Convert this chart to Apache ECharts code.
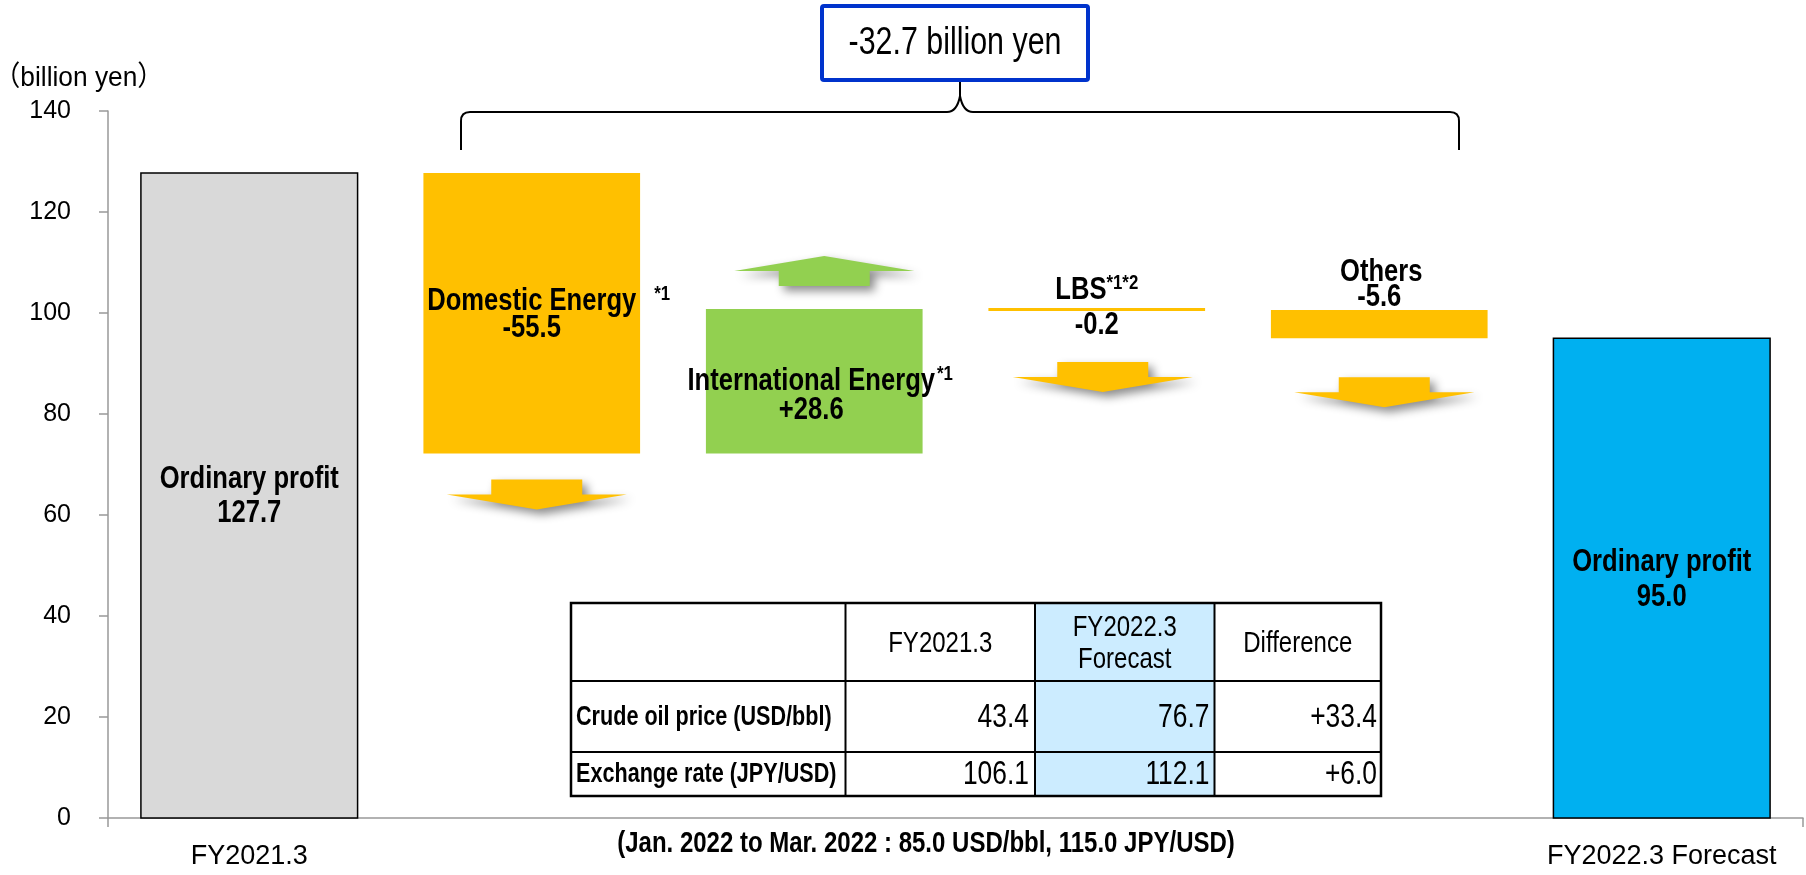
<!DOCTYPE html>
<html><head><meta charset="utf-8">
<script src="https://cdn.jsdelivr.net/npm/echarts@6/dist/echarts.min.js"></script>
<style>html,body{margin:0;padding:0;background:#fff}#c{width:1806px;height:875px}</style>
</head><body><div id="c"></div>
<script>
// ---------- data ----------
const categories = ['FY2021.3', 'Domestic Energy', 'International Energy', 'LBS', 'Others', 'FY2022.3 Forecast'];
const xTickLabels = ['FY2021.3', '', '', '', '', 'FY2022.3 Forecast'];
const barKinds = ['total', 'delta', 'delta', 'delta', 'delta', 'total'];
const barValues = [127.7, -55.5, 28.6, -0.2, -5.6, 95.0];
const barTitles = ['Ordinary profit', 'Domestic Energy', 'International Energy', 'LBS', 'Others', 'Ordinary profit'];
const barNotes = ['', '*1', '*1', '*1*2', '', ''];
const barValueTexts = ['127.7', '-55.5', '+28.6', '-0.2', '-5.6', '95.0'];
const yMin = 0, yMax = 140, yStep = 20;
const unitLabel = '（billion yen）';
const totalChangeText = '-32.7 billion yen';
const tableHeader = ['', 'FY2021.3', 'FY2022.3\nForecast', 'Difference'];
const tableRowNames = ['Crude oil price (USD/bbl)', 'Exchange rate (JPY/USD)'];
const tableFY2021 = ['43.4', '106.1'];
const tableFY2022 = ['76.7', '112.1'];
const tableDiff = ['+33.4', '+6.0'];
const footnote = '(Jan. 2022 to Mar. 2022 : 85.0 USD/bbl, 115.0 JPY/USD)';

// ---------- waterfall ----------
let running = 0;
const wfData = barValues.map((v, i) => {
  let low, high;
  if (barKinds[i] === 'total') { low = 0; high = v; running = v; }
  else { const nx = running + v; low = Math.min(running, nx); high = Math.max(running, nx); running = nx; }
  return [i, low, high, v];
});

// ---------- styles / layout ----------
const FONT = '"Liberation Sans", Arial, "Noto Sans CJK JP", sans-serif';
const NARROW_SCALE = 0.8;   // emulate condensed lettering
const BAR_RATIO = 0.767;
const COLORS = { first: '#D9D9D9', last: '#00B0F0', neg: '#FFC000', pos: '#92D050' };
const ARROW_GAP = [0, 26, 23, 51, 39, 0];
const ARROW_DX = [0, 5, 10, 6, 5, 0];
const LABEL_FS = 32, SUP_FS = 21;
// [title dx, title dy, value dx, value dy, supGap, blockCenter] relative to bar centre
const LABEL_POS = [
  [0, -16, 0, 18, 0, false],
  [0, -12, 0, 15, 18, false],
  [-3, 0, -3, 29, 2, false],
  [0, -19, 0, 16, 0, true],
  [2, -52, 0, -27, 0, false],
  [0, -16, 0, 19, 0, false]
];

const mctx = document.createElement('canvas').getContext('2d');
function textW(s, size, weight) { mctx.font = weight + ' ' + size + 'px ' + FONT; return mctx.measureText(s).width * NARROW_SCALE; }

function txt(x, y, text, size, weight, align, extra) {
  return Object.assign({
    type: 'text', x: x, y: y, z: 10, scaleX: NARROW_SCALE,
    style: { text: text, fill: '#000', fontSize: size, fontWeight: weight, fontFamily: FONT,
      align: align || 'center', verticalAlign: 'middle', lineHeight: Math.round(size * 1.05) }
  }, extra || {});
}
function seg(x1, y1, x2, y2) {
  return { type: 'line', z: 5, shape: { x1: x1, y1: y1, x2: x2, y2: y2 }, style: { stroke: '#000', lineWidth: 2 } };
}
function curve(x1, y1, cx, cy, x2, y2) {
  return { type: 'bezierCurve', z: 5, shape: { x1: x1, y1: y1, x2: x2, y2: y2, cpx1: cx, cpy1: cy }, style: { fill: 'none', stroke: '#000', lineWidth: 2 } };
}

function renderBars(params, api) {
  const i = api.value(0);
  const lowP = api.coord([i, api.value(1)]);
  const highP = api.coord([i, api.value(2)]);
  const band = api.size([1, 0])[0];
  const w = band * BAR_RATIO;
  const cx = lowP[0];
  let top = highP[1], h = lowP[1] - highP[1];
  if (h < 3) { top = (lowP[1] + highP[1]) / 2 - 1.5; h = 3; }
  const mid = top + h / 2;
  const kind = barKinds[i];
  const v = api.value(3);
  const children = [];
  let fill;
  if (kind === 'total') fill = i === 0 ? COLORS.first : COLORS.last;
  else fill = v < 0 ? COLORS.neg : COLORS.pos;
  children.push({
    type: 'rect', shape: { x: cx - w / 2, y: top, width: w, height: h },
    style: kind === 'total' ? { fill: fill, stroke: '#000', lineWidth: 1.5 } : { fill: fill }
  });
  if (kind === 'delta') {
    const ax = cx + ARROW_DX[i], rw = 91, rh = 15, hw = 180, hh = 15;
    let pts;
    if (v < 0) {
      const y0 = top + h + ARROW_GAP[i];
      pts = [[ax - rw / 2, y0], [ax + rw / 2, y0], [ax + rw / 2, y0 + rh], [ax + hw / 2, y0 + rh], [ax, y0 + rh + hh], [ax - hw / 2, y0 + rh], [ax - rw / 2, y0 + rh]];
    } else {
      const y0 = top - ARROW_GAP[i];
      pts = [[ax - rw / 2, y0], [ax + rw / 2, y0], [ax + rw / 2, y0 - rh], [ax + hw / 2, y0 - rh], [ax, y0 - rh - hh], [ax - hw / 2, y0 - rh], [ax - rw / 2, y0 - rh]];
    }
    children.push({
      type: 'polygon', shape: { points: pts },
      style: { fill: fill, shadowBlur: 10, shadowOffsetX: 5, shadowOffsetY: 5, shadowColor: 'rgba(0,0,0,0.45)' }
    });
  }
  const lp = LABEL_POS[i];
  const title = barTitles[i], note = barNotes[i];
  const tw = textW(title, LABEL_FS, 'bold');
  let tx = cx + lp[0], sx;
  if (note) {
    if (lp[5]) {
      const sw = textW(note, SUP_FS, 'bold');
      const left = cx - (tw + sw) / 2;
      tx = left + tw / 2; sx = left + tw;
    } else {
      sx = tx + tw / 2 + lp[4];
    }
  }
  children.push(txt(tx, mid + lp[1], title, LABEL_FS, 'bold'));
  if (note) children.push(txt(sx, mid + lp[1] - 7, note, SUP_FS, 'bold', 'left'));
  children.push(txt(cx + lp[2], mid + lp[3], barValueTexts[i], LABEL_FS, 'bold'));
  return { type: 'group', children: children };
}

// ---------- annotations (box, brace, table) ----------
const graphics = [];
graphics.push(txt(-6, 78, unitLabel, 28, 'normal', 'left', { scaleX: 0.94 }));
graphics.push(seg(461, 150, 461, 121));
graphics.push(curve(461, 121, 461, 112, 470, 112));
graphics.push(seg(470, 112, 947, 112));
graphics.push(curve(947, 112, 957, 112, 960, 96));
graphics.push(curve(960, 96, 963, 112, 973, 112));
graphics.push(seg(973, 112, 1450, 112));
graphics.push(curve(1450, 112, 1459, 112, 1459, 121));
graphics.push(seg(1459, 121, 1459, 150));
graphics.push(seg(960, 96, 960, 80));
graphics.push({ type: 'rect', z: 6, shape: { x: 822, y: 6, width: 266, height: 74, r: 2 }, style: { fill: '#fff', stroke: '#0033CC', lineWidth: 4 } });
graphics.push(txt(955, 44, totalChangeText, 38, 'normal'));

const colX = [571, 845.5, 1035, 1214.5, 1381];
const rowY = [603, 681, 752, 796];
graphics.push({ type: 'rect', z: 4, shape: { x: colX[2], y: rowY[0], width: colX[3] - colX[2], height: rowY[3] - rowY[0] }, style: { fill: '#CCECFF' } });
for (let k = 1; k < colX.length - 1; k++) graphics.push(seg(colX[k], rowY[0], colX[k], rowY[3]));
for (let k = 1; k < rowY.length - 1; k++) graphics.push(seg(colX[0], rowY[k], colX[4], rowY[k]));
graphics.push({ type: 'rect', z: 5, shape: { x: colX[0], y: rowY[0], width: colX[4] - colX[0], height: rowY[3] - rowY[0] }, style: { fill: 'none', stroke: '#000', lineWidth: 2.5 } });
const hMid = (rowY[0] + rowY[1]) / 2;
for (let c = 1; c < 4; c++) graphics.push(txt((colX[c] + colX[c + 1]) / 2, hMid + 2, tableHeader[c], 30, 'normal', 'center', { z: 6 }));
for (let r = 0; r < 2; r++) {
  const ym = (rowY[r + 1] + rowY[r + 2]) / 2 + 1;
  graphics.push(txt(colX[0] + 5, ym, tableRowNames[r], 27, 'bold', 'left', { z: 6 }));
  graphics.push(txt(colX[2] - 6, ym, tableFY2021[r], 33, 'normal', 'right', { z: 6 }));
  graphics.push(txt(colX[3] - 5, ym, tableFY2022[r], 33, 'normal', 'right', { z: 6 }));
  graphics.push(txt(colX[4] - 4, ym, tableDiff[r], 33, 'normal', 'right', { z: 6 }));
}
graphics.push(txt(926, 844, footnote, 30, 'bold'));

const chart = echarts.init(document.getElementById('c'), null, { renderer: 'canvas' });
chart.setOption({
  animation: false,
  backgroundColor: '#fff',
  grid: { left: 108, right: 3, top: 111, bottom: 57 },
  xAxis: {
    type: 'category', data: categories, boundaryGap: true,
    axisLine: { lineStyle: { color: '#999', width: 1.5 } },
    axisTick: { show: true, length: 9, interval: function (idx) { return idx === 0; }, lineStyle: { color: '#999', width: 1.5 } },
    axisLabel: { interval: 0, margin: 25, color: '#000', fontSize: 27, fontFamily: FONT, formatter: function (v, idx) { return xTickLabels[idx]; } }
  },
  yAxis: {
    type: 'value', min: yMin, max: yMax, interval: yStep,
    axisLine: { show: true, lineStyle: { color: '#999', width: 1.5 } },
    axisTick: { show: true, length: 9, lineStyle: { color: '#999', width: 1.5 } },
    axisLabel: { margin: 37, color: '#000', fontSize: 25, fontFamily: FONT },
    splitLine: { show: false }
  },
  series: [{
    type: 'custom', renderItem: renderBars, data: wfData, clip: false,
    encode: { x: 0, y: [1, 2] }, z: 3
  }],
  graphic: graphics
});
</script></body></html>
